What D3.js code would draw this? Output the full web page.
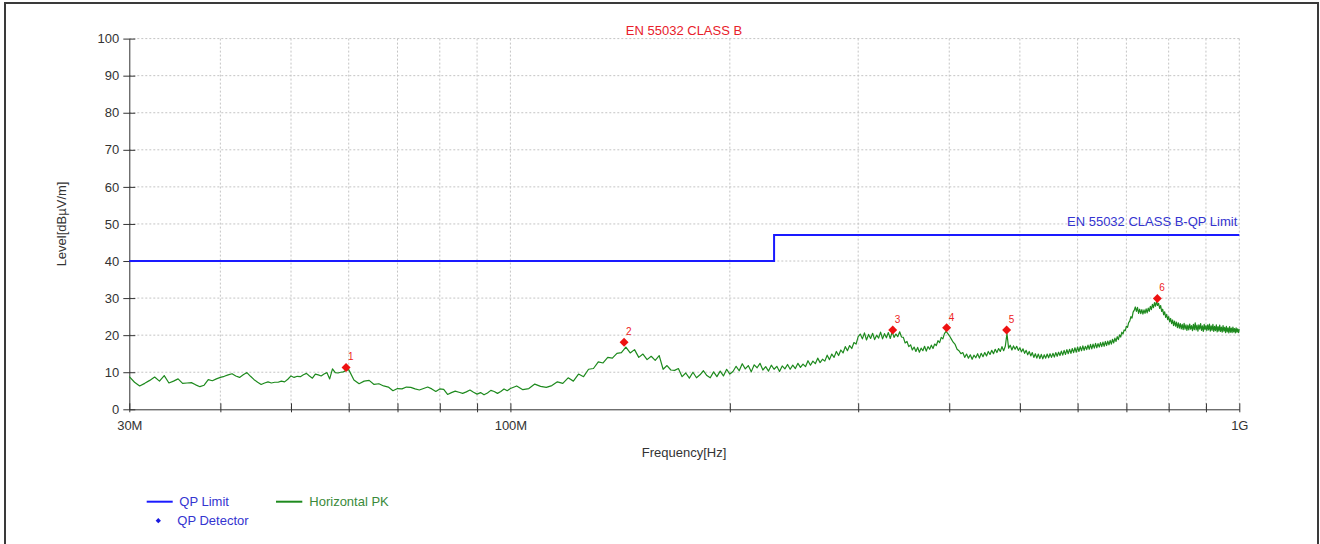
<!DOCTYPE html>
<html><head><meta charset="utf-8">
<script src="https://cdn.jsdelivr.net/npm/d3@7"></script>
<style>
body{margin:0;background:#fff;}
svg{display:block;font-family:"Liberation Sans",Arial,sans-serif;}
</style>
</head><body>
<svg id="c" width="1320" height="544"></svg>
<script>
// ---------- data ----------
const chartTitle = "EN 55032 CLASS B";
const limitName = "EN 55032 CLASS B-QP Limit";
const xTitle = "Frequency[Hz]";
const yTitle = "Level[dBµV/m]";

const limitFreqMHz = [30, 230, 230, 1000];
const limitLevel = [40, 40, 47, 47];

const markerLabels = ["1", "2", "3", "4", "5", "6"];
const markerFreqMHz = [59.5, 143.2, 334.6, 396.7, 479.5, 771.9];
const markerLevel = [11.3, 18.1, 21.4, 22.0, 21.4, 29.9];

const yTickValues = [0, 10, 20, 30, 40, 50, 60, 70, 80, 90, 100];
const xTickValues = [30, 40, 50, 60, 70, 80, 90, 100, 200, 300, 400, 500, 600, 700, 800, 900, 1000];
const xTickLabels = ["30M", "", "", "", "", "", "", "100M", "", "", "", "", "", "", "", "", "1G"];

const legendNames = ["QP Limit", "Horizontal PK", "QP Detector"];

const pkFreqMHz = [
30,30.5,31,31.5,32,32.5,33,33.5,34,34.5,35,35.5,36,36.5,37,37.5,38,38.5,39,39.5,
40,40.5,41,41.5,42,42.5,43,43.5,44,44.5,45,45.5,46,46.5,47,47.5,48,48.5,49,49.5,
50,50.5,51,51.5,52,52.5,53,53.5,54,54.5,55,55.5,56,56.5,57,57.5,58,58.5,59,59.5,60,
61,62,63,64,65,66,67,68,69,70,71,72,73,74,75,76,77,78,79,80,
81,82,83,84,85,86,87,88,89,90,91,92,93,94,95,96,97,98,99,100,
102,104,106,108,110,112,114,116,118,120,122,124,126,128,130,132,134,136,138,140,
142,144,146,148,150,152,154,156,158,160,162,164,166,168,170,172,174,176,178,180,
182,184,186,188,190,192,194,196,198,200,
202,204,206,208,210,212,214,216,218,220,222,224,226,228,230,232,234,236,238,240,
242,244,246,248,250,252,254,256,258,260,262,264,266,268,270,272,274,276,278,280,
282,284,286,288,290,292,294,296,298,300,302,304,306,308,310,312,314,316,318,320,
322,324,326,328,330,332,334,336,338,340,342,344,346,348,350,352,354,356,358,360,
362,364,366,368,370,372,374,376,378,380,382,384,386,388,390,392,394,396,398,400,
402.5,405,407.5,410,412.5,415,417.5,420,422.5,425,427.5,430,432.5,435,437.5,440,
442.5,445,447.5,450,452.5,455,457.5,460,462.5,465,467.5,470,472.5,475,477.5,480,
482.5,485,487.5,490,492.5,495,497.5,500,502.5,505,507.5,510,512.5,515,517.5,520,
522.5,525,527.5,530,532.5,535,537.5,540,542.5,545,547.5,550,552.5,555,557.5,560,
562.5,565,567.5,570,572.5,575,577.5,580,582.5,585,587.5,590,592.5,595,597.5,600,
602.5,605,607.5,610,612.5,615,617.5,620,622.5,625,627.5,630,632.5,635,637.5,640,
642.5,645,647.5,650,652.5,655,657.5,660,662.5,665,667.5,670,672.5,675,677.5,680,
682.5,685,687.5,690,692.5,695,697.5,700,702.5,705,707.5,710,712.5,715,717.5,720,
722.5,725,727.5,730,732.5,735,737.5,740,742.5,745,747.5,750,752.5,755,757.5,760,
762.5,765,767.5,770,772.5,775,777.5,780,782.5,785,787.5,790,792.5,795,797.5,800,
802.5,805,807.5,810,812.5,815,817.5,820,822.5,825,827.5,830,832.5,835,837.5,840,
842.5,845,847.5,850,852.5,855,857.5,860,862.5,865,867.5,870,872.5,875,877.5,880,
882.5,885,887.5,890,892.5,895,897.5,900,902.5,905,907.5,910,912.5,915,917.5,920,
922.5,925,927.5,930,932.5,935,937.5,940,942.5,945,947.5,950,952.5,955,957.5,960,
962.5,965,967.5,970,972.5,975,977.5,980,982.5,985,987.5,990,992.5,995,997.5,1000
];
const pkLevel = [
8.8,7.3,6.3,7.0,7.8,8.7,7.6,9.1,7.1,7.6,8.2,7.0,7.1,7.2,6.6,6.1,6.5,8.0,7.7,8.2,
8.6,8.9,9.3,9.6,9.0,8.6,9.3,9.9,8.9,8.0,7.3,6.7,7.1,7.4,7.1,7.3,7.3,7.6,7.4,8.1,
9.0,8.6,8.9,8.8,9.3,9.7,9.0,8.4,9.5,9.3,9.0,9.5,9.9,8.2,10.9,9.9,9.8,10.0,10.1,10.5,10.7,
7.9,6.9,7.6,7.8,6.7,6.9,6.3,6.0,5.0,5.6,5.5,6.0,5.9,5.5,5.2,5.6,6.0,5.5,4.8,5.5,
5.4,4.0,4.5,4.9,4.6,4.3,4.7,5.2,4.6,4.1,4.5,3.9,4.4,5.1,4.8,4.3,4.8,5.5,5.0,5.6,
6.3,5.3,5.6,6.8,6.2,5.9,6.4,7.4,7.0,8.5,7.6,9.5,8.8,10.8,11.0,12.8,12.5,14.0,13.8,15.1,
15.3,16.8,15.2,16.1,14.0,14.9,13.4,14.3,13.2,14.5,10.8,11.8,10.6,10.5,11.0,8.8,9.8,8.4,10.0,8.5,
9.3,10.4,9.1,8.5,10.1,8.8,10.3,9.0,10.8,9.5,
10.2,11.6,10.4,12.3,10.9,11.8,10.1,12.0,11.2,12.4,10.6,11.5,10.3,11.9,10.8,11.6,10.2,11.7,10.9,12.1,
10.8,11.9,11.0,12.4,11.3,12.2,11.5,13.1,11.9,13.0,12.3,13.8,12.6,13.5,13.0,14.6,13.4,14.9,14.0,15.6,
14.5,16.0,15.2,16.9,15.8,17.2,16.4,18.0,17.6,19.6,20.3,19.0,20.6,18.7,20.2,19.1,20.5,18.8,20.0,19.2,
20.8,19.0,20.4,19.3,20.7,19.1,20.9,19.4,20.3,19.6,20.9,19.5,19.4,17.9,18.3,16.9,17.4,16.0,16.8,15.6,
16.7,15.4,16.5,15.8,17.0,15.7,16.9,16.2,17.3,16.4,17.6,17.2,18.5,18.0,19.4,19.0,20.4,21.0,20.5,19.9,
19.0,18.1,17.5,16.2,15.8,15.0,15.3,14.0,14.9,13.8,14.7,13.5,14.6,13.9,15.0,13.8,
15.1,14.2,15.3,14.4,15.6,14.8,15.9,15.0,16.2,15.3,16.4,15.6,16.9,15.8,17.0,20.4,
16.5,17.3,16.0,17.1,16.2,17.0,15.9,16.6,15.5,16.3,15.1,15.9,14.7,15.6,14.4,15.3,
14.0,15.0,13.8,14.9,13.7,14.8,13.6,14.7,13.8,14.9,13.9,15.0,14.0,15.1,14.1,15.3,
14.3,15.4,14.5,15.7,14.6,15.9,14.8,16.1,15.0,16.2,15.1,16.4,15.3,16.6,15.4,16.8,
15.6,16.9,15.8,17.1,15.9,17.0,16.1,17.3,16.2,17.5,16.3,17.6,16.5,17.8,16.6,17.7,
16.8,18.0,16.9,18.1,17.0,18.3,17.2,18.4,17.4,18.6,17.6,18.9,17.9,19.2,18.3,19.6,
18.8,20.1,19.5,20.8,20.3,21.4,21.2,22.4,22.1,23.4,23.8,25.0,24.6,26.2,26.7,27.6,
26.4,27.5,25.9,27.0,25.8,26.9,25.7,26.8,25.9,27.1,26.0,27.3,26.4,27.8,26.9,28.3,
27.4,28.8,27.8,29.1,28.0,28.6,27.2,28.0,26.4,27.0,25.5,26.3,24.8,25.6,24.2,25.0,
23.6,24.5,23.1,24.1,22.6,23.8,22.4,23.5,22.0,23.3,21.9,23.1,21.7,22.9,21.5,23.2,
21.6,22.8,21.3,22.7,21.4,23.0,21.6,22.6,21.2,22.9,21.5,23.3,21.4,22.7,21.1,22.8,
21.6,23.1,21.3,22.5,21.0,22.9,21.5,22.6,21.2,22.8,21.4,23.0,21.1,22.5,21.3,22.9,
21.0,22.4,21.2,22.8,20.9,22.3,21.1,22.7,21.0,22.2,20.8,22.6,21.1,22.1,20.7,22.4,
20.9,22.0,20.6,22.3,20.8,21.9,20.7,22.2,20.9,21.8,20.6,22.0,20.8,21.7,20.7,21.6
];

// ---------- drawing ----------
const svg = d3.select("#c");
const x = d3.scaleLog().domain([30, 1000]).range([129.3, 1239.3]);
const y = d3.scaleLinear().domain([0, 100]).range([409.3, 38.6]);

// outer frame
svg.append("rect").attr("x", 5).attr("y", 3).attr("width", 1313).attr("height", 570)
  .attr("fill", "none").attr("stroke", "#3a3a3a").attr("stroke-width", 2);

// grid
const grid = svg.append("g").attr("stroke", "#c4c4c4").attr("stroke-width", 1).attr("stroke-dasharray", "2,2");
grid.selectAll("line.h").data(yTickValues.filter(d => d > 0)).join("line")
  .attr("x1", x(30)).attr("x2", x(1000)).attr("y1", d => y(d)).attr("y2", d => y(d));
grid.selectAll("line.v").data(xTickValues.filter(d => d > 30)).join("line")
  .attr("x1", d => x(d)).attr("x2", d => x(d)).attr("y1", y(100)).attr("y2", y(0));

// axes
const yAxis = svg.append("g").attr("transform", `translate(${x(30)},0)`)
  .call(d3.axisLeft(y).tickValues(yTickValues).tickSizeOuter(0).tickSizeInner(6));
yAxis.select(".domain").attr("stroke", "#333");
yAxis.selectAll(".tick line").attr("x1", 6).attr("x2", -6).attr("stroke", "#333");
yAxis.selectAll(".tick text").attr("x", -10).attr("font-size", 13).attr("fill", "#333").attr("font-family", "Liberation Sans, Arial, sans-serif");

const xAxis = svg.append("g").attr("transform", `translate(0,${y(0)})`)
  .call(d3.axisBottom(x).tickValues(xTickValues).tickSizeOuter(0).tickSizeInner(3)
    .tickFormat((d, i) => xTickLabels[i]));
xAxis.select(".domain").attr("stroke", "#333");
xAxis.selectAll(".tick line").attr("y1", -6).attr("y2", 3).attr("stroke", "#333");
xAxis.selectAll(".tick text").attr("y", 11.5).attr("font-size", 13).attr("fill", "#333").attr("font-family", "Liberation Sans, Arial, sans-serif");

// axis titles
svg.append("text").attr("x", 684).attr("y", 457).attr("text-anchor", "middle")
  .attr("font-size", 13).attr("fill", "#333").text(xTitle);
svg.append("text").attr("transform", `translate(66,${(y(0) + y(100)) / 2}) rotate(-90)`)
  .attr("text-anchor", "middle").attr("font-size", 13).attr("fill", "#333").text(yTitle);

// title
svg.append("text").attr("x", 684).attr("y", 35).attr("text-anchor", "middle")
  .attr("font-size", 13).attr("fill", "#e8202a").text(chartTitle);

// limit line
const limitData = limitFreqMHz.map((f, i) => [f, limitLevel[i]]);
svg.append("path").datum(limitData)
  .attr("d", d3.line().x(d => x(d[0])).y(d => y(d[1])))
  .attr("fill", "none").attr("stroke", "#1a1aff").attr("stroke-width", 2);
svg.append("text").attr("x", x(1000) - 2).attr("y", y(47) - 9).attr("text-anchor", "end")
  .attr("font-size", 13).attr("fill", "#3434d0").text(limitName);

// PK trace
const pkData = pkFreqMHz.map((f, i) => [f, pkLevel[i]]);
svg.append("path").datum(pkData)
  .attr("d", d3.line().x(d => x(d[0])).y(d => y(d[1])))
  .attr("fill", "none").attr("stroke", "#1e8a1e").attr("stroke-width", 1.2)
  .attr("stroke-linejoin", "round");

// markers
const diamond = d3.symbol().type(d3.symbolSquare).size(40);
const mk = svg.append("g");
markerFreqMHz.forEach((f, i) => {
  mk.append("path").attr("d", diamond())
    .attr("transform", `translate(${x(f)},${y(markerLevel[i])}) rotate(45)`)
    .attr("fill", "#ee1111");
  mk.append("text").attr("x", x(f) + 2).attr("y", y(markerLevel[i]) - 7)
    .attr("font-size", 10).attr("fill", "#ee2222").text(markerLabels[i]);
});

// legend
const lg = svg.append("g");
lg.append("line").attr("x1", 146.7).attr("x2", 172.7).attr("y1", 501.7).attr("y2", 501.7)
  .attr("stroke", "#1a1aff").attr("stroke-width", 2);
lg.append("text").attr("x", 179.3).attr("y", 501.7).attr("dy", "0.35em")
  .attr("font-size", 13).attr("fill", "#3434d0").text(legendNames[0]);
lg.append("line").attr("x1", 276).attr("x2", 302.3).attr("y1", 501.7).attr("y2", 501.7)
  .attr("stroke", "#1e8a1e").attr("stroke-width", 2);
lg.append("text").attr("x", 309.3).attr("y", 501.7).attr("dy", "0.35em")
  .attr("font-size", 13).attr("fill", "#3a8a3a").text(legendNames[1]);
lg.append("path").attr("d", d3.symbol().type(d3.symbolSquare).size(14)())
  .attr("transform", "translate(158.3,520.7) rotate(45)").attr("fill", "#1a1ae0");
lg.append("text").attr("x", 177.3).attr("y", 520.7).attr("dy", "0.35em")
  .attr("font-size", 13).attr("fill", "#3434d0").text(legendNames[2]);
</script>
</body></html>
